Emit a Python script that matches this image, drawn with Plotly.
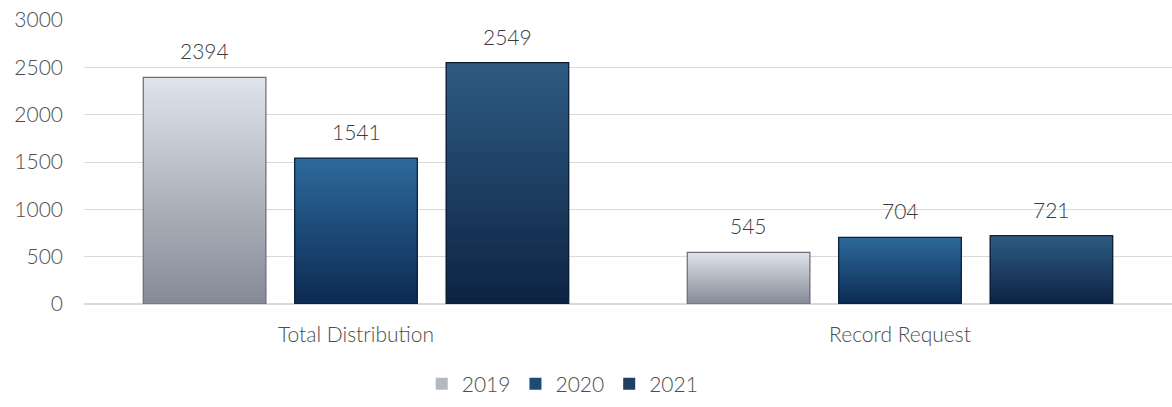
import plotly.graph_objects as go

categories = ["Total Distribution", "Record Request"]
years = ["2019", "2020", "2021"]
values_2019 = [2394, 545]
values_2020 = [1541, 704]
values_2021 = [2549, 721]
y_ticks = [0, 500, 1000, 1500, 2000, 2500, 3000]

series = [
    ("2019", values_2019, "#dfe3ea", "#868a97", "#6a6d75"),
    ("2020", values_2020, "#2c6a9c", "#0d2a52", "#0b1f3a"),
    ("2021", values_2021, "#2e5b82", "#0d2343", "#0a1a30"),
]

FONT = "Lato"
WEIGHT = 300
TEXT_COLOR = "#4d4d4d"
FONT_SIZE = 21
STEPS = 40
BARGAP = 0.165
BARGROUPGAP = 0.19


def hex_to_rgb(h):
    h = h.lstrip("#")
    return tuple(int(h[i:i + 2], 16) for i in (0, 2, 4))


def mix(c_top, c_bottom, t):
    a, b = hex_to_rgb(c_top), hex_to_rgb(c_bottom)
    r = [round(b[i] + (a[i] - b[i]) * t) for i in range(3)]
    return f"rgb({r[0]},{r[1]},{r[2]})"


def font(color=TEXT_COLOR):
    return dict(family=FONT, size=FONT_SIZE, color=color, weight=WEIGHT)


fig = go.Figure()

slot = (1 - BARGAP) / len(series)
for j, (name, vals, top, bottom, edge) in enumerate(series):
    # vertical gradient: each layer starts higher up and is drawn over the last
    for k in range(STEPS):
        frac = k / STEPS
        fig.add_trace(go.Bar(
            x=categories,
            y=[v * (1 - frac) for v in vals],
            base=[v * frac for v in vals],
            offsetgroup=name,
            marker=dict(color=mix(top, bottom, (k + 0.5) / STEPS), line=dict(width=0)),
            name=name,
            legendgroup=name,
            showlegend=(k == STEPS // 2),
            hoverinfo="skip",
        ))
    # outline
    fig.add_trace(go.Bar(
        x=categories,
        y=vals,
        offsetgroup=name,
        marker=dict(color="rgba(0,0,0,0)", line=dict(color=edge, width=1.2)),
        showlegend=False,
        legendgroup=name,
        hoverinfo="skip",
    ))
    # value labels above each bar (category index + group offset)
    for i, v in enumerate(vals):
        fig.add_annotation(
            x=i + (j - (len(series) - 1) / 2) * slot,
            y=v,
            xref="x",
            yref="y",
            text=str(v),
            showarrow=False,
            yanchor="bottom",
            yshift=12,
            font=font("#3a3a3a"),
        )

fig.update_layout(
    width=1172,
    height=407,
    margin=dict(l=84, r=0, t=20, b=103),
    paper_bgcolor="white",
    plot_bgcolor="white",
    barmode="group",
    bargap=BARGAP,
    bargroupgap=BARGROUPGAP,
    font=font(),
    showlegend=True,
    legend=dict(
        orientation="h",
        x=0.44,
        xanchor="center",
        xref="paper",
        y=-0.21,
        yanchor="top",
        font=font(),
        itemwidth=30,
        traceorder="normal",
    ),
    hovermode=False,
)

fig.update_yaxes(
    range=[0, 3000],
    tickvals=y_ticks,
    showgrid=True,
    gridcolor="#d9d9d9",
    gridwidth=1,
    zeroline=True,
    zerolinecolor="#d9d9d9",
    showline=False,
    ticks="",
    ticklabelstandoff=20,
    tickfont=font(),
)
fig.update_xaxes(
    showgrid=False,
    showline=False,
    ticks="",
    ticklabelstandoff=16,
    tickfont=font(),
)

fig.write_html("out.html")
